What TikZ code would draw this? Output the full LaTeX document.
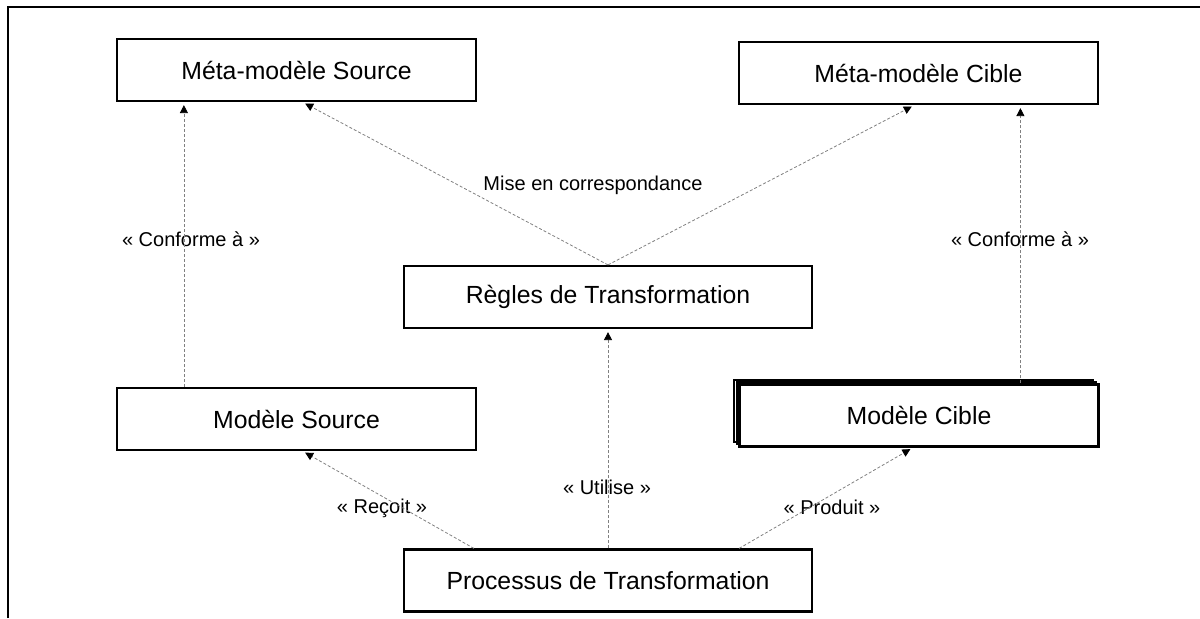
\documentclass[tikz,border=0pt]{standalone}
\usepackage{fontspec}
\setmainfont{Liberation Sans}
\usetikzlibrary{arrows.meta,shadows}

\begin{document}
\begin{tikzpicture}[
        x=0.5pt, y=-0.5pt,
        box/.style = {rectangle, draw=black, line width=1.1pt, fill=white, minimum width=179.5pt, minimum height=31pt, font=\fontsize{12.4}{14}\selectfont},
        wide box/.style = {box, minimum width=204pt},
        lien/.style = {draw=gray, line width=0.4pt, dash pattern=on 1.5pt off 1pt, shorten >=1.5pt, -{Triangle[length=4pt,width=4pt,color=black]}},
        lbl/.style = {font=\fontsize{10}{12}\selectfont}
    ]
    \useasboundingbox (0,0) rectangle (1200,618);

    % frame
    \draw[line width=1pt] (8,618) -- (8,7) -- (1200,7);

    %nodes
    \node[box] (mms) at (296.5,70) {Méta-modèle Source};
    \node[box] (mmc) at (918.5,73) {Méta-modèle Cible};
    \node[wide box] (regles) at (608,297) {Règles de Transformation};
    \node[box] (ms) at (296.5,419) {Modèle Source};
    \node[box, double copy shadow={shadow xshift=-1.3pt, shadow yshift=1.2pt}] (mc) at (919,415.5) {Modèle Cible};
    \node[wide box] (proc) at (608,580.5) {Processus de Transformation};

    % labels
    \node[lbl] (corresp) at (593,185) {Mise en correspondance};
    \node[lbl] (confsrc) at (191,239) {« Conforme à »};
    \node[lbl] (confcib) at (1020,239) {« Conforme à »};
    \node[lbl] (utilise) at (607,487) {« Utilise »};
    \node[lbl] (recoit) at (382,508) {« Reçoit »};
    \node[lbl] (produit) at (832,507) {« Produit »};

    % links
    \draw[lien] ([xshift=34pt]ms.north west) -- ([xshift=34pt]mms.south west);
    \draw[lien] ([xshift=141pt]mc.north west) -- ([xshift=141pt]mc.north west |- mmc.south);
    \draw[lien] (regles.north) -- ([xshift=3pt]mms.south);
    \draw[lien] (regles.north) -- ([xshift=-2pt]mmc.south);
    \draw[lien] (proc.north) -- (regles.south);
    \draw[lien] ([xshift=35.5pt]proc.north west) -- ([xshift=3pt]ms.south);
    \draw[lien] ([xshift=-37pt]proc.north east) -- ([xshift=-3pt]mc.south);

\end{tikzpicture}
\end{document}
